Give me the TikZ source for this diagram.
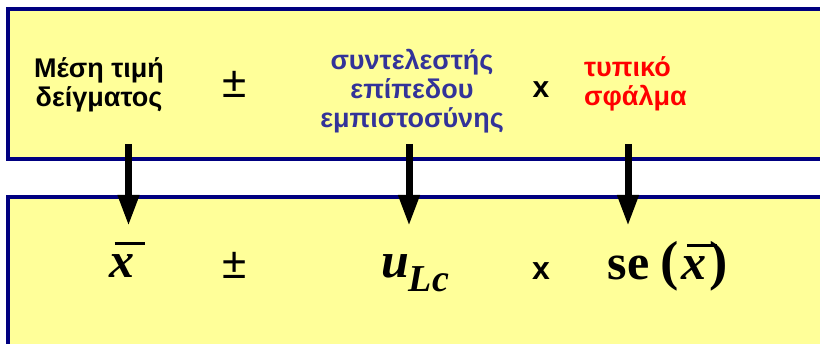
\documentclass[tikz,border=0pt]{standalone}
\usepackage{fontspec}
\setmainfont{Liberation Serif}
\newfontfamily\arial{Liberation Sans}
\usetikzlibrary{arrows.meta}
\definecolor{boxfill}{HTML}{FFFF99}
\definecolor{boxline}{HTML}{000080}
\definecolor{labelblue}{HTML}{333399}
\definecolor{labelred}{HTML}{FF0000}
\newcommand\barx{\rlap{\hspace{0.1em}\raisebox{0.66em}{\rule{0.6em}{0.06em}}}\textbf{\textit{x}}}
\newcommand\bigparen[1]{{\fontsize{55}{55}\selectfont #1}}
\tikzset{
  panel/.style={draw=boxline, line width=3.5pt, fill=boxfill},
  greek/.style={font=\arial\bfseries\fontsize{27}{29}\selectfont, align=center, inner sep=0pt},
  pm/.style={font=\arial\fontsize{44}{44}\selectfont, inner sep=0pt, anchor=base},
  times/.style={font=\arial\bfseries\fontsize{#1}{#1}\selectfont, inner sep=0pt, anchor=base},
  formula/.style={font=\bfseries\fontsize{50}{50}\selectfont, inner sep=0pt, anchor=base},
  link/.style={line width=7pt, -{Triangle[width=20pt,length=31pt]}},
}
\begin{document}
\begin{tikzpicture}[x=1pt,y=-1pt]
\useasboundingbox (0,0) rectangle (820,344);
\clip (0,0) rectangle (820,344);
% panels
\path[panel] (8,9) rectangle (850,159);
\path[panel] (8,197) rectangle (850,380);
% top row
\node[greek] (mean) at (99,85) {Μέση τιμή\\δείγματος};
\node[pm] (pmtop) at (235,98) {±};
\node[greek, text=labelblue] (coef) at (412,91) {συντελεστής\\επίπεδου\\εμπιστοσύνης};
\node[times=30] (xtop) at (541,98) {x};
\node[greek, text=labelred, align=left, anchor=west] (se) at (584,84) {τυπικό\\σφάλμα};
% bottom row
\node[formula] (xbar) at (122,278) {\barx};
\node[pm] (pmbot) at (235,279) {±};
\node[formula] (ulc) at (415,278) {\textit{u}\raisebox{-14pt}{\fontsize{38}{38}\selectfont\textit{Lc}}};
\node[times=32] (xbot) at (541,280) {x};
\node[formula] (sex) at (668,280) {se\hspace{0.22em}\bigparen{(}\hspace{0.06em}\barx\hspace{0.06em}\bigparen{)}};
% arrows
\coordinate (s1) at (128.5,144);
\coordinate (e1) at (128.5,226);
\coordinate (s2) at (409,144);
\coordinate (e2) at (409,226);
\coordinate (s3) at (628,144);
\coordinate (e3) at (628,226);
\draw[link] (s1) -- (e1);
\draw[link] (s2) -- (e2);
\draw[link] (s3) -- (e3);
\end{tikzpicture}
\end{document}
